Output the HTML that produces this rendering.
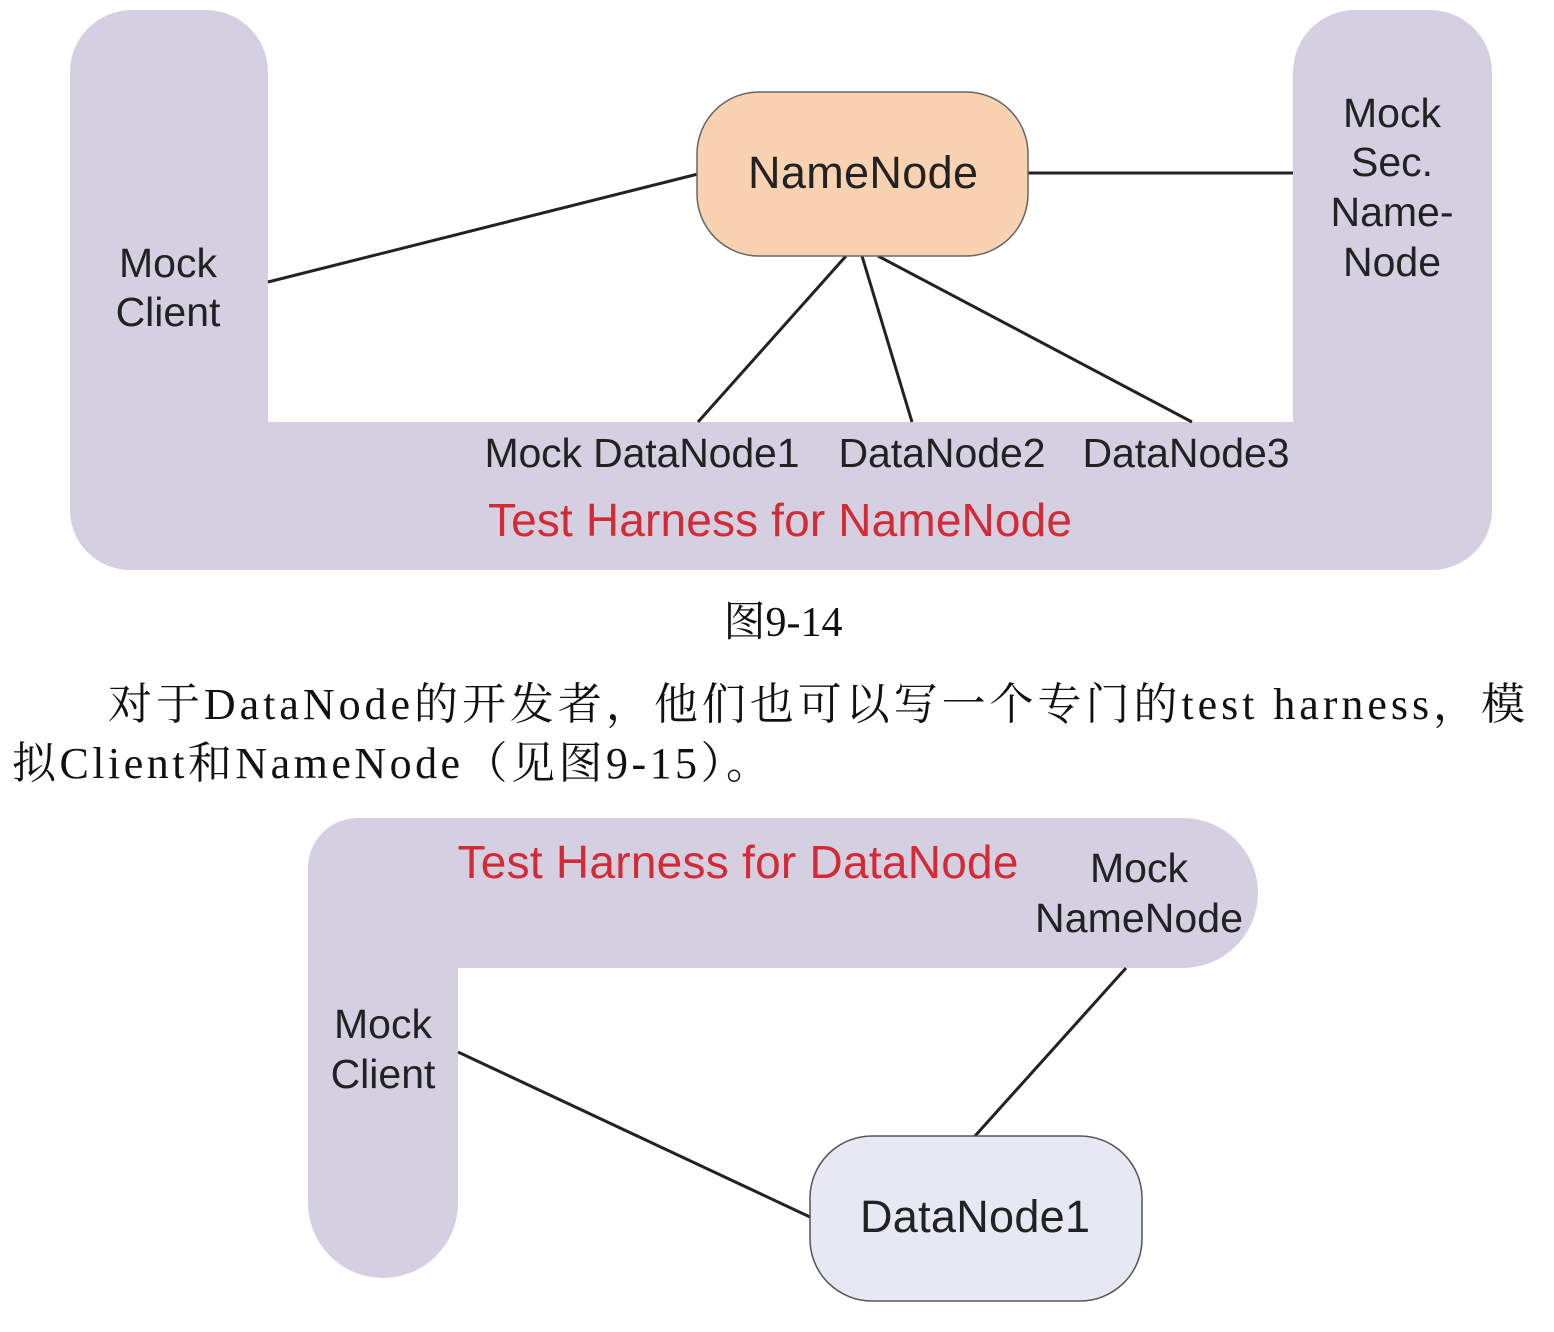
<!DOCTYPE html>
<html><head><meta charset="utf-8"><style>
body{margin:0;background:#fff;}
svg{display:block}
.s{font-family:"Liberation Sans",sans-serif;}
.r{font-family:"Liberation Serif","Noto Serif CJK SC",serif;}
</style></head><body>
<svg width="1554" height="1332" xmlns="http://www.w3.org/2000/svg">
<g fill="#d4d0e1">
<rect x="70" y="10" width="198" height="560" rx="62"/>
<rect x="1293" y="10" width="199" height="560" rx="62"/>
<rect x="70" y="422" width="1422" height="148" rx="60"/>
<rect x="200" y="422" width="1150" height="60"/>
<rect x="308" y="818" width="950" height="150" rx="75"/>
<rect x="308" y="818" width="150" height="460" rx="75"/>
<rect x="308" y="818" width="150" height="150" rx="50"/>
<rect x="380" y="818" width="200" height="150"/>
</g>
<g stroke="#222" stroke-width="3" fill="none">
<line x1="268" y1="282" x2="698" y2="174"/>
<line x1="1028" y1="173" x2="1293" y2="173"/>
<line x1="846" y1="256" x2="698" y2="422"/>
<line x1="862" y1="256" x2="912" y2="422"/>
<line x1="878" y1="256" x2="1192" y2="422"/>
<line x1="458" y1="1052" x2="810" y2="1217"/>
<line x1="1126" y1="968" x2="975" y2="1136"/>
</g>
<rect x="697" y="92" width="331" height="164" rx="62" fill="#f9d2b2" stroke="#666" stroke-width="1.5"/>
<rect x="810" y="1136" width="332" height="165" rx="62" fill="#e6e8f4" stroke="#555" stroke-width="1.5"/>
<g class="s" fill="#222" font-size="41" text-anchor="middle">
<text x="863" y="188" font-size="45" textLength="230">NameNode</text>
<text x="168" y="277">Mock</text><text x="168" y="326">Client</text>
<text x="1392" y="127">Mock</text><text x="1392" y="176">Sec.</text><text x="1392" y="226">Name-</text><text x="1392" y="276">Node</text>
<text x="642" y="467" textLength="315">Mock DataNode1</text>
<text x="942" y="467" textLength="207">DataNode2</text>
<text x="1186" y="467" textLength="207">DataNode3</text>
<text x="780" y="536" fill="#d42a35" font-size="46" textLength="584">Test Harness for NameNode</text>
<text x="738" y="878" fill="#d42a35" font-size="46" textLength="561">Test Harness for DataNode</text>
<text x="1139" y="882">Mock</text><text x="1139" y="932" textLength="208">NameNode</text>
<text x="383" y="1038">Mock</text><text x="383" y="1088">Client</text>
<text x="975" y="1232" font-size="45" textLength="230">DataNode1</text>
</g>
<g class="r" fill="#111" font-size="44">
<text x="783" y="636" text-anchor="middle" font-size="42">图9-14</text>
<text x="108" y="719" textLength="1417" lengthAdjust="spacing">对于DataNode的开发者，他们也可以写一个专门的test harness，模</text>
<text x="12" y="778" textLength="758" lengthAdjust="spacing">拟Client和NameNode（见图9-15）。</text>
</g>
</svg>
</body></html>
